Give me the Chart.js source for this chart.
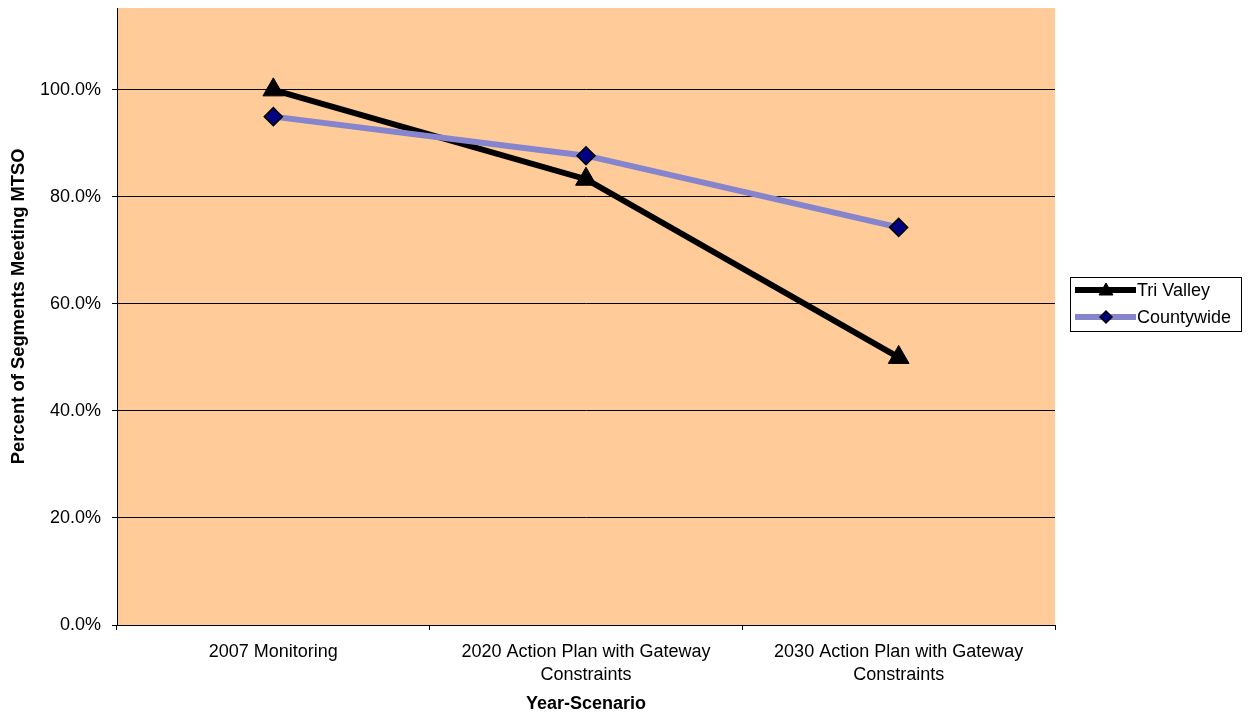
<!DOCTYPE html>
<html>
<head>
<meta charset="utf-8">
<script src="https://cdn.jsdelivr.net/npm/chart.js@4/dist/chart.umd.min.js"></script>
<style>
  html, body { margin: 0; padding: 0; background: #ffffff; }
  #wrap { width: 1253px; height: 717px; position: relative; }
</style>
</head>
<body>
<div id="wrap"><canvas id="mtsoChart" width="1253" height="717"></canvas></div>
<script>
// Year-scenario categories (multi-line labels)
const scenarios = [
    '2007 Monitoring',
    ['2020 Action Plan with Gateway', 'Constraints'],
    ['2030 Action Plan with Gateway', 'Constraints']
];

// Percent of segments meeting MTSO
const triValley = [100.0, 83.3, 50.0];
const countywide = [95.0, 87.7, 74.3];

// y axis tick values (percent)
const yTicks = [0, 20, 40, 60, 80, 100];

const FONT = "'Liberation Sans', Arial, sans-serif";

// peach plot background
const plotBackground = {
    id: 'plotBackground',
    beforeDraw(chart) {
        const { ctx, chartArea: a } = chart;
        ctx.save();
        ctx.fillStyle = '#FFCC99';
        ctx.fillRect(a.left, a.top, a.right - a.left, a.bottom - a.top);
        ctx.restore();
    }
};

// boxed legend with line + marker samples
const boxLegend = {
    id: 'boxLegend',
    afterDraw(chart) {
        const ctx = chart.ctx;
        const x0 = 1070, y0 = 277, w = 171, h = 54;
        ctx.save();
        ctx.fillStyle = '#ffffff';
        ctx.fillRect(x0, y0, w, h);
        ctx.strokeStyle = '#000000';
        ctx.lineWidth = 1;
        ctx.strokeRect(x0 + 0.5, y0 + 0.5, w, h);
        chart.data.datasets.forEach((ds, i) => {
            const cy = y0 + 13 + i * 27;
            ctx.strokeStyle = ds.borderColor;
            ctx.lineWidth = ds.borderWidth;
            ctx.beginPath();
            ctx.moveTo(x0 + 5, cy);
            ctx.lineTo(x0 + 66, cy);
            ctx.stroke();
            ctx.fillStyle = ds.pointBackgroundColor;
            ctx.strokeStyle = ds.pointBorderColor;
            ctx.lineWidth = ds.pointBorderWidth;
            Chart.helpers.drawPoint(ctx, {
                pointStyle: ds.pointStyle,
                rotation: 0,
                radius: ds.legendRadius,
                borderWidth: ds.pointBorderWidth
            }, x0 + 36, cy + (ds.pointStyle === 'triangle' ? 1 : 0));
            ctx.fillStyle = '#000000';
            ctx.font = '18px ' + FONT;
            ctx.textBaseline = 'middle';
            ctx.textAlign = 'left';
            ctx.fillText(ds.label, x0 + 67, cy + 1);
        });
        ctx.restore();
    }
};

const ctx = document.getElementById('mtsoChart').getContext('2d');
new Chart(ctx, {
    type: 'line',
    data: {
        labels: scenarios,
        datasets: [{
            label: 'Tri Valley',
            data: triValley,
            borderColor: '#000000',
            borderWidth: 6,
            pointStyle: 'triangle',
            pointRadius: 12,
            legendRadius: 8,
            pointBackgroundColor: '#000000',
            pointBorderColor: '#000000',
            pointBorderWidth: 1,
            order: 1
        }, {
            label: 'Countywide',
            data: countywide,
            borderColor: '#8584CC',
            borderWidth: 6,
            pointStyle: 'rectRot',
            pointRadius: 9,
            legendRadius: 6,
            pointBackgroundColor: '#000080',
            pointBorderColor: '#000000',
            pointBorderWidth: 1.5,
            order: 0
        }]
    },
    options: {
        responsive: false,
        animation: false,
        layout: { autoPadding: false, padding: { left: 0, right: 198, top: 8, bottom: 0 } },
        plugins: {
            legend: { display: false },
            tooltip: { enabled: false }
        },
        scales: {
            x: {
                offset: true,
                grid: {
                    offset: true,
                    drawOnChartArea: false,
                    drawTicks: true,
                    tickLength: 5,
                    color: '#000000'
                },
                border: { display: true, color: '#000000', width: 1 },
                ticks: {
                    color: '#000000',
                    font: { family: FONT, size: 18, lineHeight: 1.25 },
                    padding: 11,
                    maxRotation: 0,
                    autoSkip: false
                },
                title: {
                    display: true,
                    text: 'Year-Scenario',
                    color: '#000000',
                    font: { family: FONT, size: 18, weight: 'bold' },
                    padding: { top: 0, bottom: 2 }
                },
                afterFit(scale) {
                    scale.height = 92;
                    scale.paddingLeft = 0;
                    scale.paddingRight = 0;
                }
            },
            y: {
                min: 0,
                max: 115.3,
                afterBuildTicks(scale) {
                    scale.ticks = yTicks.map(v => ({ value: v }));
                },
                grid: {
                    color: '#000000',
                    lineWidth: 1,
                    drawTicks: true,
                    tickLength: 5
                },
                border: { display: true, color: '#000000', width: 1 },
                ticks: {
                    color: '#000000',
                    font: { family: FONT, size: 18 },
                    padding: 11,
                    callback: v => v.toFixed(1) + '%'
                },
                title: {
                    display: true,
                    // leading spaces nudge the rotated title a little higher
                    text: '    Percent of Segments Meeting MTSO',
                    color: '#000000',
                    font: { family: FONT, size: 18.4, weight: 'bold' },
                    padding: { top: 8, bottom: 0 }
                },
                afterFit(scale) {
                    scale.width = 117;
                    scale.paddingTop = 0;
                    scale.paddingBottom = 0;
                }
            }
        }
    },
    plugins: [plotBackground, boxLegend]
});
</script>
</body>
</html>
